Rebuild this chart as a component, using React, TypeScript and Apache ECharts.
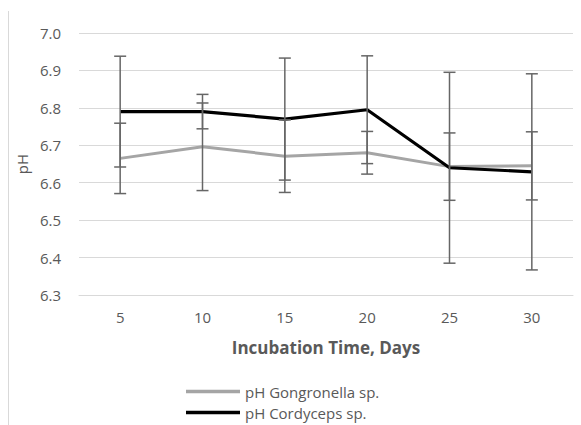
import React, { useEffect, useRef } from "react";
import * as echarts from "echarts";

const days = ["5", "10", "15", "20", "25", "30"];
const gongronella = [6.665, 6.696, 6.671, 6.68, 6.643, 6.645];
const gongronellaErr = [0.094, 0.117, 0.097, 0.057, 0.09, 0.091];
const cordyceps = [6.79, 6.79, 6.77, 6.795, 6.64, 6.629];
const cordycepsErr = [0.148, 0.046, 0.163, 0.144, 0.255, 0.262];
const yTicks = { min: 6.3, max: 7.0, interval: 0.1 };

const TEXT = "#595959";
const FONT = "'Open Sans', sans-serif";
const ERR = "#666666";

function errData(means: number[], errs: number[]) {
  return means.map((m, i) => [i, m - errs[i], m + errs[i]]);
}

function errSeries(name: string, data: number[][]) {
  return {
    type: "custom",
    name,
    z: 5,
    silent: true,
    renderItem: (_params: any, api: any) => {
      const x = api.value(0);
      const top = api.coord([x, api.value(2)]);
      const bot = api.coord([x, api.value(1)]);
      const hw = 6;
      const style = { stroke: ERR, lineWidth: 1.5 };
      return {
        type: "group",
        children: [
          { type: "line", shape: { x1: top[0], y1: top[1], x2: bot[0], y2: bot[1] }, style },
          { type: "line", shape: { x1: top[0] - hw, y1: top[1], x2: top[0] + hw, y2: top[1] }, style },
          { type: "line", shape: { x1: bot[0] - hw, y1: bot[1], x2: bot[0] + hw, y2: bot[1] }, style },
        ],
      };
    },
    data,
  };
}

export default function App() {
  const ref = useRef<HTMLDivElement>(null);
  useEffect(() => {
    if (!ref.current) return;
    const chart = echarts.init(ref.current, undefined, { renderer: "svg" });
    chart.setOption({
      animation: false,
      backgroundColor: "#ffffff",
      textStyle: { fontFamily: FONT },
      grid: { left: 79, right: 8, top: 33, bottom: 130, containLabel: false },
      xAxis: {
        type: "category",
        data: days,
        boundaryGap: true,
        axisLine: { show: true, lineStyle: { color: "#d9d9d9", width: 1 } },
        axisTick: { show: false },
        axisLabel: { color: TEXT, fontSize: 15, fontFamily: FONT, margin: 14 },
        name: "Incubation Time, Days",
        nameLocation: "middle",
        nameGap: 44,
        nameTextStyle: { color: TEXT, fontSize: 17, fontWeight: "bold", fontFamily: FONT },
      },
      yAxis: {
        type: "value",
        min: yTicks.min,
        max: yTicks.max,
        interval: yTicks.interval,
        axisLine: { show: false },
        axisTick: { show: false },
        axisLabel: {
          color: TEXT,
          fontSize: 15,
          fontFamily: FONT,
          margin: 18,
          formatter: (v: number) => v.toFixed(1),
        },
        splitLine: { lineStyle: { color: "#d9d9d9", width: 1 } },
        name: "pH",
        nameLocation: "middle",
        nameGap: 40,
        nameTextStyle: { color: TEXT, fontSize: 15, fontFamily: FONT },
      },
      legend: {
        orient: "vertical",
        left: 186,
        top: 384,
        padding: 0,
        icon: "rect",
        itemWidth: 54,
        itemHeight: 3.5,
        itemGap: 6,
        data: ["pH Gongronella sp.", "pH Cordyceps sp."],
        textStyle: { color: TEXT, fontSize: 15, lineHeight: 14, fontFamily: FONT },
      },
      graphic: [
        {
          type: "line",
          shape: { x1: 8.5, y1: 11, x2: 8.5, y2: 425 },
          style: { stroke: "#d9d9d9", lineWidth: 1 },
        },
      ],
      series: [
        {
          type: "line",
          name: "pH Gongronella sp.",
          data: gongronella,
          symbol: "none",
          z: 3,
          lineStyle: { color: "#a5a5a5", width: 3 },
          itemStyle: { color: "#a5a5a5" },
        },
        {
          type: "line",
          name: "pH Cordyceps sp.",
          data: cordyceps,
          symbol: "none",
          z: 4,
          lineStyle: { color: "#000000", width: 3.2 },
          itemStyle: { color: "#000000" },
        },
        errSeries("err-g", errData(gongronella, gongronellaErr)),
        errSeries("err-c", errData(cordyceps, cordycepsErr)),
      ],
    });
    return () => chart.dispose();
  }, []);
  return (
    <div
      ref={ref}
      style={{ position: "fixed", left: 0, top: 0, width: 581, height: 425 }}
    />
  );
}
